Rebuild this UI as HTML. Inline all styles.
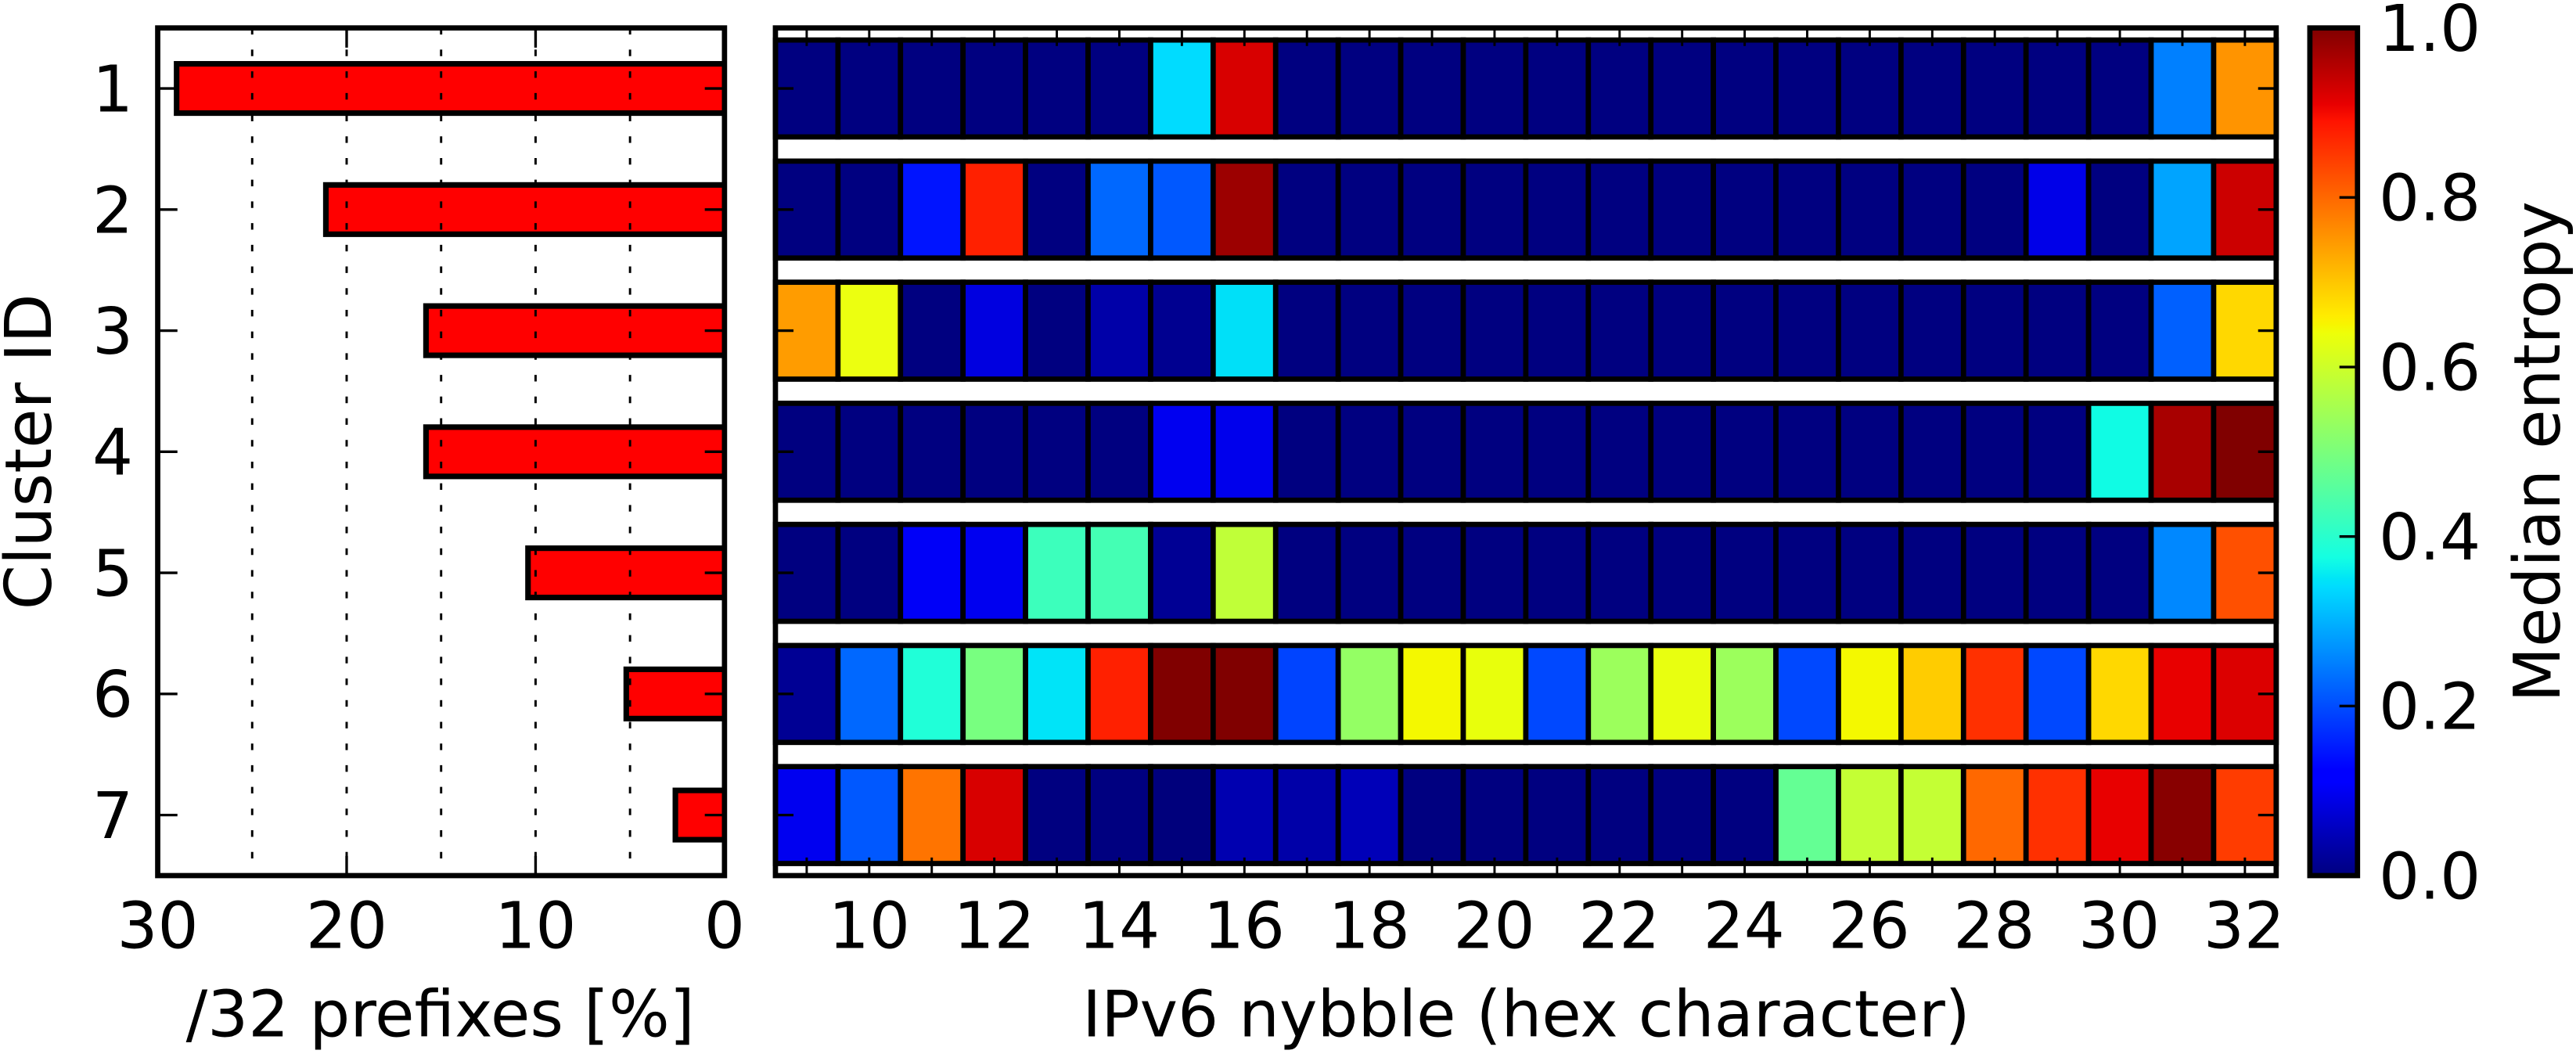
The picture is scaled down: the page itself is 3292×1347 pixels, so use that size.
<!DOCTYPE html>
<html><head><meta charset="utf-8"><style>
html,body{margin:0;padding:0;background:#fff}
svg{display:block}
text{font-family:"DejaVu Sans","Liberation Sans",sans-serif;fill:#000}
</style></head><body>
<svg id="s" xmlns="http://www.w3.org/2000/svg" width="3292" height="1347" viewBox="0 0 1568 641.6" preserveAspectRatio="none">
<defs>
<linearGradient id="jet" x1="0" y1="1" x2="0" y2="0">
<stop offset="0" stop-color="#000080"/><stop offset="0.11" stop-color="#0000ff"/><stop offset="0.125" stop-color="#0000ff"/>
<stop offset="0.34" stop-color="#00dbff"/><stop offset="0.35" stop-color="#00e5f7"/><stop offset="0.375" stop-color="#14ffe2"/>
<stop offset="0.64" stop-color="#eeff08"/><stop offset="0.65" stop-color="#f7f500"/><stop offset="0.66" stop-color="#ffec00"/>
<stop offset="0.89" stop-color="#ff1300"/><stop offset="0.91" stop-color="#e80000"/><stop offset="1" stop-color="#800000"/>
</linearGradient>
<clipPath id="lc"><rect x="96" y="17" width="345" height="516"/></clipPath>
</defs>
<g id="left"></g>
<g id="heat"></g>
<rect x="96" y="17" width="345" height="516" fill="none" stroke="#000" stroke-width="3.2"/>
<rect x="472" y="17" width="913.5" height="516" fill="none" stroke="#000" stroke-width="3.2"/>
<rect x="1406" y="17" width="29" height="516" fill="url(#jet)" stroke="#000" stroke-width="3.2"/>
<g stroke="#000" stroke-width="1.6">
<line x1="1424" x2="1435" y1="120.2" y2="120.2"/><line x1="1424" x2="1435" y1="223.4" y2="223.4"/>
<line x1="1424" x2="1435" y1="326.6" y2="326.6"/><line x1="1424" x2="1435" y1="429.8" y2="429.8"/>
</g>
<g font-size="39">
<text x="1448" y="31">1.0</text>
<text x="1448" y="134.2">0.8</text>
<text x="1448" y="237.4">0.6</text>
<text x="1448" y="340.6">0.4</text>
<text x="1448" y="443.8">0.2</text>
<text x="1448" y="547">0.0</text>
</g>
<text font-size="39" transform="translate(1558,275) rotate(-90)" text-anchor="middle">Median entropy</text>
<g font-size="39" text-anchor="end">
<text x="81" y="68">1</text><text x="81" y="141.6">2</text><text x="81" y="215.3">3</text>
<text x="81" y="289">4</text><text x="81" y="362.7">5</text><text x="81" y="436.4">6</text><text x="81" y="510.1">7</text>
</g>
<text font-size="39" transform="translate(31,275) rotate(-90)" text-anchor="middle">Cluster ID</text>
<g font-size="39" text-anchor="middle">
<text x="96" y="577">30</text><text x="211" y="577">20</text><text x="326" y="577">10</text><text x="441" y="577">0</text>
</g>
<text font-size="39" x="268" y="631" text-anchor="middle">/32 prefixes [%]</text>
<g id="xl" font-size="39" text-anchor="middle">
<text x="529.1" y="577">10</text><text x="605.2" y="577">12</text><text x="681.2" y="577">14</text>
<text x="757.3" y="577">16</text><text x="833.4" y="577">18</text><text x="909.5" y="577">20</text>
<text x="985.6" y="577">22</text><text x="1061.6" y="577">24</text><text x="1137.7" y="577">26</text>
<text x="1213.8" y="577">28</text><text x="1289.9" y="577">30</text><text x="1366" y="577">32</text>
</g>
<text font-size="39" x="929" y="631" text-anchor="middle">IPv6 nybble (hex character)</text>
</svg>
<script>
var NS="http://www.w3.org/2000/svg";
function el(p,t,a){var e=document.createElementNS(NS,t);for(var k in a)e.setAttribute(k,a[k]);p.appendChild(e);return e;}
var N="#000080";
var rows=[
[N,N,N,N,N,N,"#00dcff","#d80000",N,N,N,N, N,N,N,N,N,N,N,N,N,N,"#0080ff","#ff9400"],
[N,N,"#0014ff","#ff2000",N,"#0068ff","#0058ff","#9c0000",N,N,N,N, N,N,N,N,N,N,N,N,"#0000e8",N,"#00a4ff","#cc0000"],
["#ff9c00","#ecff10",N,"#0000e0",N,"#0000a8","#000090","#00e0f8",N,N,N,N, N,N,N,N,N,N,N,N,N,N,"#0060ff","#ffd800"],
[N,N,N,N,N,N,"#0000f0","#0000ec",N,N,N,N, N,N,N,N,N,N,N,N,N,"#10fce4","#a80000","#800000"],
[N,N,"#0000f8","#0000f0","#3cffbc","#44ffb4","#000094","#c0ff38",N,N,N,N, N,N,N,N,N,N,N,N,N,N,"#0088ff","#ff5000"],
["#000094","#0068ff","#20ffd8","#78ff80","#00e4f8","#ff2000","#800000","#800000","#0044ff","#94ff64","#f4f800","#e8ff0c",
 "#0048ff","#9cff5c","#e8ff10","#9cff5c","#0048ff","#f4f800","#ffcc00","#ff3000","#0048ff","#ffd800","#e80000","#dc0000"],
["#0000f0","#0058ff","#ff7400","#d80000",N,N,"#00007c","#0000b0","#0000a8","#0000b8",N,N,
 N,N,N,N,"#64ff94","#c4ff34","#c4ff34","#ff6800","#ff3000","#e80000","#880000","#ff3c00"]];
var bars=[29.0,21.1,15.8,15.8,10.4,5.2,2.6];
var L=document.getElementById("left"),H=document.getElementById("heat");
var unit=516/7, cw=913.5/24;
var lg=el(L,"g",{"clip-path":"url(#lc)"});
for(var i=0;i<7;i++){
  var yc=17+(i+0.5)*unit;
  var xl=441-bars[i]*11.5;
  el(lg,"rect",{x:xl,y:yc-15,width:441-xl+5,height:30,fill:"#ff0000",stroke:"#000","stroke-width":3.4});
  for(var k=0;k<24;k++){
    el(H,"rect",{x:472+k*cw,y:yc-29.5,width:cw,height:59,fill:rows[i][k],stroke:"#000","stroke-width":3.2});
  }
  el(L,"line",{x1:96,x2:108,y1:yc,y2:yc,stroke:"#000","stroke-width":1.6});
  el(L,"line",{x1:429,x2:441,y1:yc,y2:yc,stroke:"#000","stroke-width":1.6});
  el(H,"line",{x1:472,x2:483,y1:yc,y2:yc,stroke:"#000","stroke-width":1.6});
  el(H,"line",{x1:1374.5,x2:1385.5,y1:yc,y2:yc,stroke:"#000","stroke-width":1.6});
}
for(var g=1;g<=5;g++){
  var x=441-g*57.5;
  el(lg,"line",{x1:x,x2:x,y1:17,y2:533,stroke:"#000","stroke-width":1.4,"stroke-dasharray":"4 9.2"});
}
for(var g=1;g<=2;g++){
  var x=441-g*115;
  el(L,"line",{x1:x,x2:x,y1:17,y2:29,stroke:"#000","stroke-width":1.6});
  el(L,"line",{x1:x,x2:x,y1:521,y2:533,stroke:"#000","stroke-width":1.6});
}
for(var k=0;k<24;k++){
  var x=472+(k+0.5)*cw;
  el(H,"line",{x1:x,x2:x,y1:17,y2:28,stroke:"#000","stroke-width":1.4});
  el(H,"line",{x1:x,x2:x,y1:522,y2:533,stroke:"#000","stroke-width":1.4});
}
</script>
</body></html>
